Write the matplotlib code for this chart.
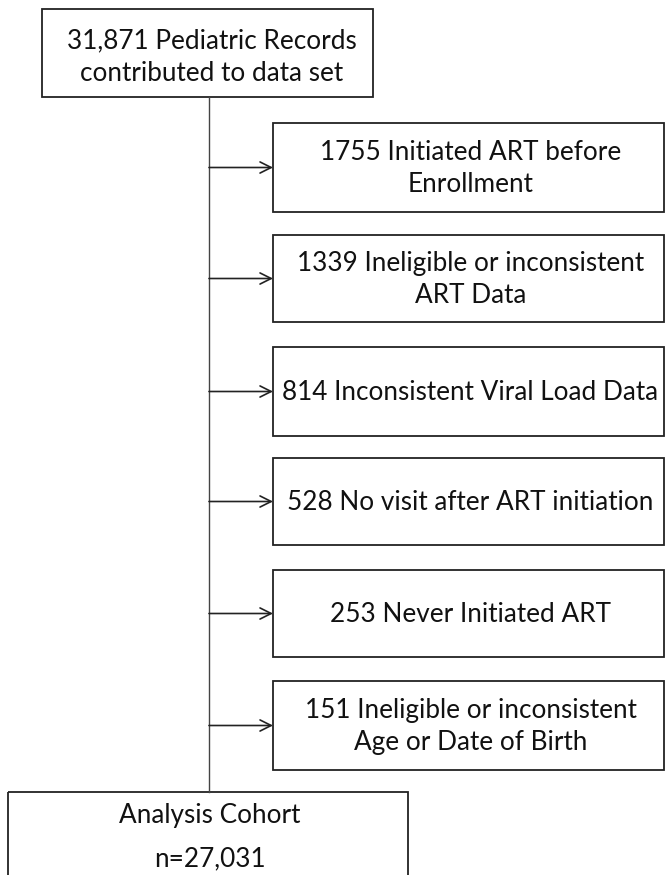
import matplotlib
matplotlib.use("Agg")
import matplotlib.pyplot as plt
from matplotlib.patches import Rectangle

top_label = "31,871 Pediatric Records\ncontributed to data set"
exclusion_counts = [1755, 1339, 814, 528, 253, 151]
exclusion_texts = [
    "Initiated ART before\nEnrollment",
    "Ineligible or inconsistent\nART Data",
    "Inconsistent Viral Load Data",
    "No visit after ART initiation",
    "Never Initiated ART",
    "Ineligible or inconsistent\nAge or Date of Birth",
]
final_title = "Analysis Cohort"
final_n = "n=27,031"

W, H = 668, 875
fig = plt.figure(figsize=(W / 100, H / 100), dpi=100)
ax = fig.add_axes([0, 0, 1, 1])
ax.set_xlim(0, W)
ax.set_ylim(H, 0)
ax.axis("off")

font = dict(family=["Lato", "DejaVu Sans"], fontsize=18.8, color="#111111")
lw = 1.3
ec = "#222222"

# top box
ax.add_patch(Rectangle((42, 9), 331, 88, fill=False, ec=ec, lw=lw))
ax.text(212, 57, top_label, ha="center", va="center", linespacing=1.38, **font)

# vertical line
spine_x = 209
ax.plot([spine_x, spine_x], [97, 792], color="#444444", lw=1.0)

# side boxes
tops = [123, 235, 347, 458, 570, 681]
heights = [89, 87, 89, 87, 87, 89]
bx, bw = 273, 391
for cnt, txt, t, h in zip(exclusion_counts, exclusion_texts, tops, heights):
    ax.add_patch(Rectangle((bx, t), bw, h, fill=False, ec=ec, lw=lw))
    cy = t + h / 2
    ax.annotate("", xy=(bx, cy), xytext=(spine_x, cy),
                arrowprops=dict(arrowstyle="->", color=ec, lw=1.2,
                                mutation_scale=20, shrinkA=0, shrinkB=0))
    ax.text(bx + bw / 2 + 2, cy + 1, f"{cnt} {txt}", ha="center", va="center",
            linespacing=1.35, **font)

# final box
ax.add_patch(Rectangle((8, 792), 400, 120, fill=False, ec=ec, lw=lw))
ax.text(210, 816, final_title, ha="center", va="center", **font)
ax.text(210, 859, final_n, ha="center", va="center", **font)

fig.savefig("out.png", dpi=100, facecolor="white")
